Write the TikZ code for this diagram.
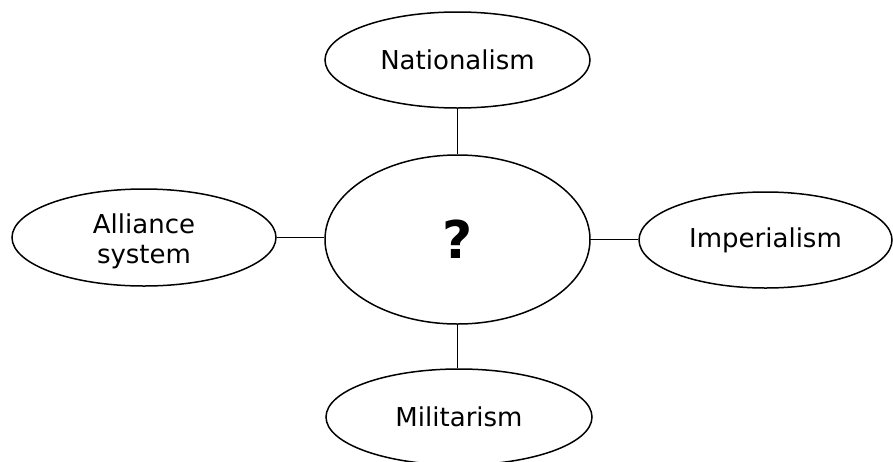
\documentclass[tikz,border=0pt]{standalone}
\usepackage{fontspec}
\setmainfont{DejaVu Sans}
\usetikzlibrary{shapes.geometric}
\begin{document}
\begin{tikzpicture}[x=1pt,y=-1pt,
  oval/.style={draw,line width=1.5pt,ellipse,inner sep=0pt,font=\fontsize{26}{30}\selectfont,align=center},
  link/.style={draw,line width=1.5pt}]
\useasboundingbox (0,0) rectangle (893,461);
\node[oval,minimum width=265pt,minimum height=96pt] (nat) at (457.5,60) {Nationalism};
\node[oval,minimum width=265pt,minimum height=169pt,font=\fontsize{52}{60}\selectfont\bfseries] (q) at (457.5,239.5) {?};
\node[oval,minimum width=264pt,minimum height=97pt] (all) at (144,237.5) {\raisebox{-5pt}[\height][\depth]{\begin{tabular}{@{}c@{}}Alliance\\system\end{tabular}}};
\node[oval,minimum width=253pt,minimum height=96pt] (imp) at (765.5,240) {Imperialism};
\node[oval,minimum width=266pt,minimum height=96pt] (mil) at (459,417) {Militarism};
\draw[link] (nat.south) -- (nat.south |- q.north);
\draw[link] (all.east) -- (all.east -| q.west);
\draw[link] (q.east) -- (q.east -| imp.west);
\draw[link] (q.south) -- (q.south |- mil.north);
\end{tikzpicture}
\end{document}
